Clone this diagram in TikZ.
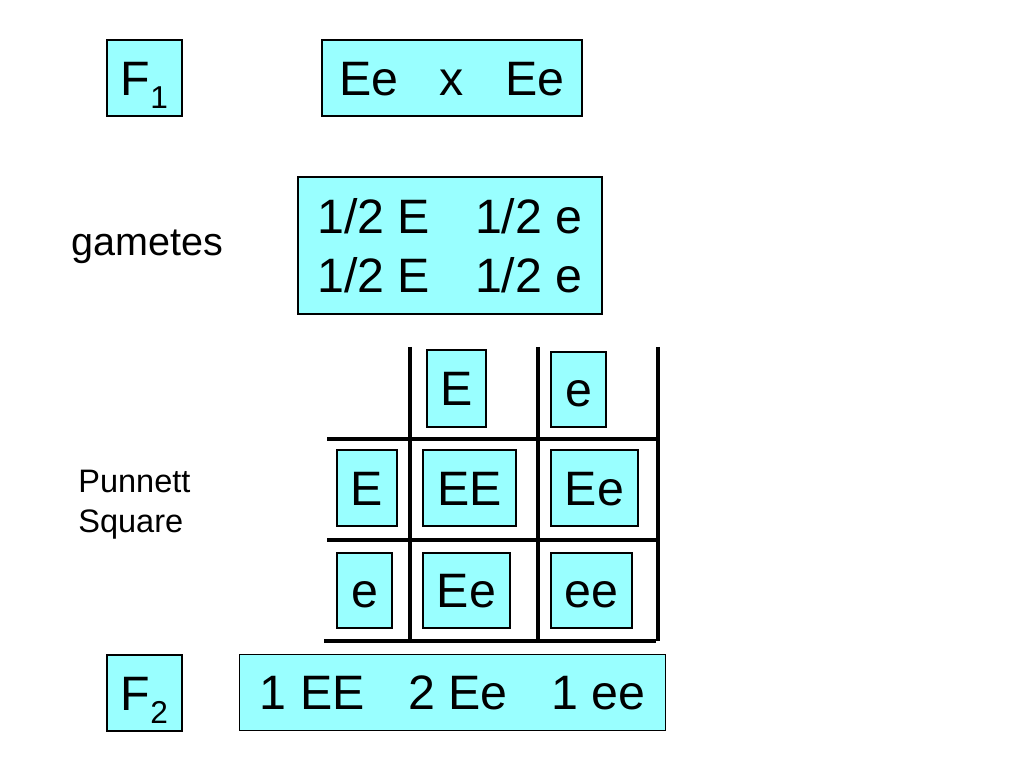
\documentclass[tikz,border=0pt]{standalone}
\usepackage{fontspec}
\setmainfont{Liberation Sans}
\usepackage{xcolor}
\usepackage{tikz}
\usetikzlibrary{positioning}
\definecolor{cellcyan}{RGB}{153,255,255}
\newcommand{\gsub}[1]{\raisebox{-0.27em}{\fontsize{18}{18}\selectfont #1}}

\begin{document}
\begin{tikzpicture}[
        x=0.2mm, y=-0.2mm,
        cell/.style={draw, fill=cellcyan, line width=1.1pt, inner sep=0pt,
                     text height=19.8pt, text depth=0pt, align=left,
                     font=\fontsize{27.5}{34}\selectfont},
        sz/.style 2 args={minimum width=#1*0.2mm, minimum height=#2*0.2mm},
        label/.style={align=left, inner sep=0pt},
        gridline/.style={line width=2.4pt}
    ]
        \useasboundingbox (0,0) rectangle (1024,768);

        % parents and gametes
        \node[cell, sz={75}{76}]  (f1)    at (144.5,78) {F\gsub{1}};
        \node[cell, sz={260}{76}] (cross) at (452,78)   {Ee\hspace{0.85em}x\hspace{0.85em}Ee};
        \node[cell, sz={304}{137}, text height=53.8pt] (gam) at (450,245.5)
            {1/2 E\hspace{0.93em}1/2 e\\1/2 E\hspace{0.93em}1/2 e};
        \node[label, font=\fontsize{22.5}{27}\selectfont] (gamlbl) at (147.5,247) {gametes};
        \node[label, anchor=west, font=\fontsize{18.5}{22.8}\selectfont] (pslbl) at (78,505)
            {Punnett\\Square};

        % punnett square
        \foreach \gx in {410,538,658}
            \draw[gridline] (\gx,347) -- (\gx,641);
        \draw[gridline] (327,439) -- (658,439);
        \draw[gridline] (327,540) -- (658,540);
        \draw[gridline] (324,641) -- (656,641);

        \node[cell, sz={59}{77}] (topE) at (456.5,388.5) {E};
        \node[cell, sz={55}{75}] (tope) at (578.5,389.5) {e};
        \node[cell, sz={60}{76}] (sideE) at (367,488)   {E};
        \node[cell, sz={55}{75}] (sidee) at (364.5,590.5) {e};
        \node[cell, sz={93}{76}] (EE)  at (469.5,488)   {EE};
        \node[cell, sz={87}{76}] (Ee1) at (594.5,488)   {Ee};
        \node[cell, sz={87}{75}] (Ee2) at (466.5,590.5) {Ee};
        \node[cell, sz={81}{75}] (ee)  at (591.5,590.5) {ee};

        % offspring
        \node[cell, sz={75}{76}]  (f2)  at (144.5,693) {F\gsub{2}};
        \node[cell, sz={426}{76}] (res) at (452.5,692.5)
            {1 EE\hspace{0.9em}2 Ee\hspace{0.9em}1 ee};
    \end{tikzpicture}
\end{document}
